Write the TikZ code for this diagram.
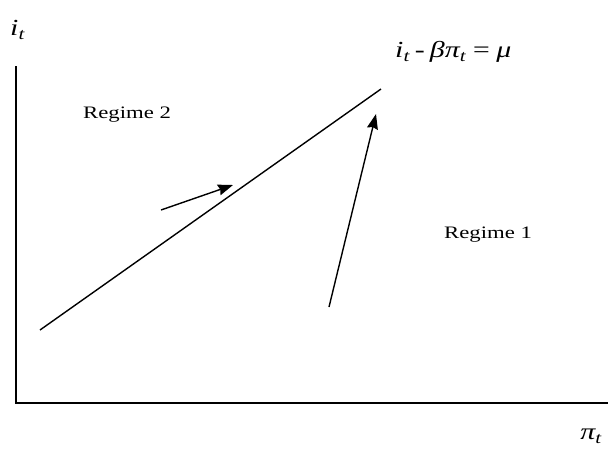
\documentclass[tikz,border=0pt]{standalone}
\usepackage{fontspec}
\setmainfont{Liberation Serif}
\usetikzlibrary{arrows.meta}
\newcommand{\wide}[1]{\scalebox{1.3}[1]{#1}}
\begin{document}
\begin{tikzpicture}[x=1pt,y=-1pt,
  axis/.style={line width=1.5pt},
  ln/.style={line width=1.4pt},
  arr/.style={line width=1.4pt,-{Stealth[length=15pt,width=11pt,inset=1.5pt]}},
  lbl/.style={font=\fontsize{17.5}{20}\selectfont,inner sep=0pt},
  mlbl/.style={font=\fontsize{23}{26}\selectfont\itshape,inner sep=0pt}]
\useasboundingbox (0,0) rectangle (608,451);
\coordinate (O) at (16,403);
\coordinate (Ytop) at (16,66);
\coordinate (Xend) at (608,403);
\draw[axis] (Ytop) -- (O) -- (Xend);
\coordinate (L1) at (40,330);
\coordinate (L2) at (381,89);
\draw[ln] (L1) -- (L2);
\coordinate (a1s) at (161,210);
\coordinate (a1e) at (233,185);
\draw[arr] (a1s) -- (a1e);
\coordinate (a2s) at (329,307);
\coordinate (a2e) at (376,114);
\draw[arr] (a2s) -- (a2e);
\node[mlbl,anchor=west] (iy) at (10,30) {\wide{i\textsubscript{t}}};
\node[mlbl,anchor=west] (eq) at (395,52) {\wide{i\textsubscript{t}\,\upshape-\,\itshape βπ\textsubscript{t}\,=\,μ}};
\node[lbl,anchor=west] (r2) at (83,115) {\wide{Regime 2}};
\node[lbl,anchor=west] (r1) at (444,235) {\wide{Regime 1}};
\node[mlbl,anchor=east] (px) at (602,436) {\wide{π\textsubscript{t}}};
\end{tikzpicture}
\end{document}
